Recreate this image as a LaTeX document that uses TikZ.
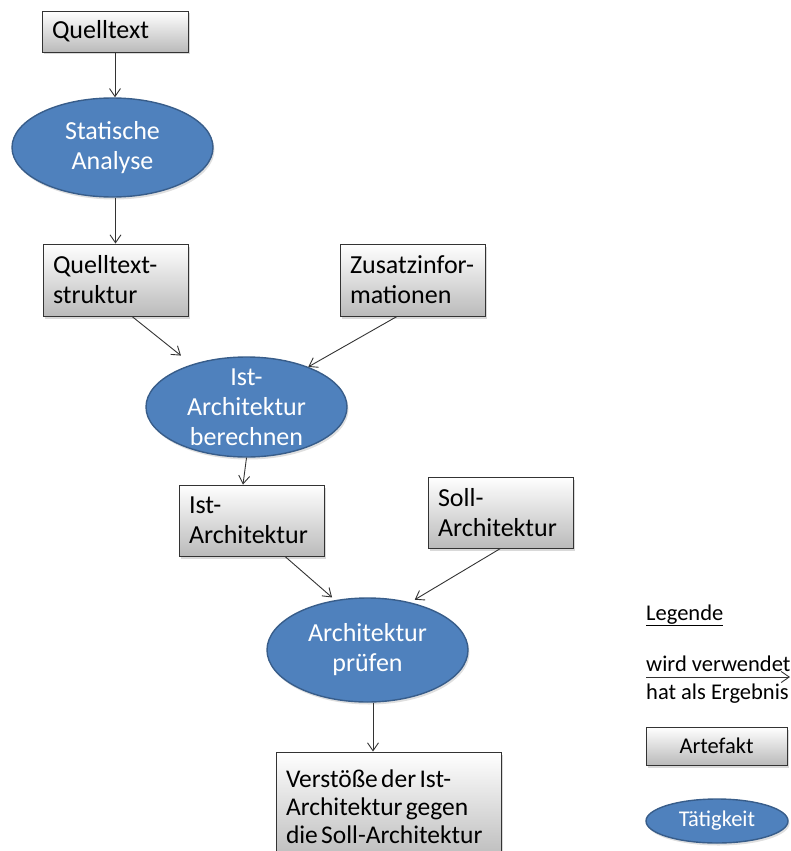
\documentclass[tikz,border=0pt]{standalone}
\usepackage{fontspec}
\setmainfont{Carlito}
\usetikzlibrary{shapes.geometric,shadows,arrows.meta}
\definecolor{actfill}{HTML}{4F81BD}
\definecolor{actdraw}{HTML}{385D8A}
\newcommand\tightwords{\spaceskip=0.13em plus 0.05em\relax}
\begin{document}
\begin{tikzpicture}[x=1pt,y=-1pt,
  artefakt/.style={rectangle, draw=black!80, line width=0.9pt,
    top color=white, bottom color=black!27,
    drop shadow={shadow xshift=2pt,shadow yshift=-2.5pt,opacity=0.3},
    inner xsep=10pt, inner ysep=0pt, align=left,
    font=\fontsize{26}{30}\selectfont},
  activity/.style={ellipse, draw=actdraw, line width=1.4pt, fill=actfill,
    inner sep=0pt,
    drop shadow={shadow xshift=1.5pt,shadow yshift=-2.5pt,opacity=0.25}},
  acttext/.style={text=white, align=center, inner sep=0pt,
    font=\fontsize{26}{30}\selectfont},
  legtext/.style={inner sep=0pt, font=\fontsize{22.5}{26}\selectfont},
  flow/.style={draw=black!80, line width=0.9pt,
    -{Straight Barb[length=8pt,width=11pt]}},
]
\useasboundingbox (0,0) rectangle (790,851);

% artefacts and activities of the workflow
\node[artefakt, minimum width=146pt, minimum height=41pt, text width=126pt]
  (qt) at (115,31.5) {Quelltext};

\node[activity, minimum width=201pt, minimum height=99pt] (sa) at (112.5,147.5) {};
\node[acttext] (sa-t) at (sa) {Statische\\Analyse};

\node[artefakt, minimum width=145pt, minimum height=72pt, text width=125pt]
  (qs) at (115.5,280) {Quelltext-\\struktur};
\node[artefakt, minimum width=145pt, minimum height=72pt, text width=125pt]
  (zi) at (412.5,280) {Zusatzinfor-\\mationen};

\node[activity, minimum width=201pt, minimum height=100pt] (ia) at (246.5,407) {};
\node[acttext] (ia-t) at (ia) {Ist-\\Architektur\\berechnen};

\node[artefakt, minimum width=145pt, minimum height=71pt, text width=125pt]
  (ib) at (251.5,520.5) {Ist-\\Architektur};
\node[artefakt, minimum width=145pt, minimum height=71pt, text width=125pt]
  (sb) at (500.5,512.5) {Soll-\\Architektur};

\node[activity, minimum width=201pt, minimum height=104pt] (ap) at (367.5,650) {};
\node[acttext] (ap-t) at (ap) {Architektur\\prüfen};

% result box, set with tight word spacing
\node[artefakt, minimum width=225pt, minimum height=110pt, text width=205pt,
  font=\fontsize{25.5}{28}\selectfont]
  (vb) at (388.5,807) {\tightwords Verstöße der Ist-\\Architektur gegen\\die Soll-Architektur};

% connectors
\draw[flow] (qt.south) -- (qt.south |- sa.north);
\draw[flow] (sa.south -| qs.north) -- (qs.north);
\draw[flow, shorten >=14pt] ([xshift=16.5pt]qs.south) -- (ia.142);
\draw[flow] ([xshift=-15.5pt]zi.south) -- (ia.33);
\draw[flow] (ia.south) -- ([xshift=-8.5pt]ib.north);
\draw[flow, shorten >=4pt] ([xshift=33.5pt]ib.south) -- (ap.123);
\draw[flow, shorten >=5pt] (sb.south) -- (ap.48);
\draw[flow] ([xshift=5.5pt]ap.south) -- ([xshift=-15.5pt]vb.north);

% legend
\node[legtext, anchor=base west] (lg) at (646,620) {\underline{Legende}};
\coordinate (lga) at (646,677);
\coordinate (lgb) at (790,677);
\draw[flow] (lga) -- (lgb);
\node[legtext, anchor=base west] (lgu) at (646,671) {wird verwendet};
\node[legtext, anchor=base west] (lge) at (646,699) {hat als Ergebnis};
\node[artefakt, minimum width=141pt, minimum height=38pt, align=center,
  font=\fontsize{22.5}{26}\selectfont] (lar) at (716.5,746) {Artefakt};
\node[activity, minimum width=142pt, minimum height=44pt] (lta) at (717,821) {};
\node[acttext, font=\fontsize{22.5}{26}\selectfont] (lta-t) at (lta) {Tätigkeit};
\end{tikzpicture}
\end{document}
